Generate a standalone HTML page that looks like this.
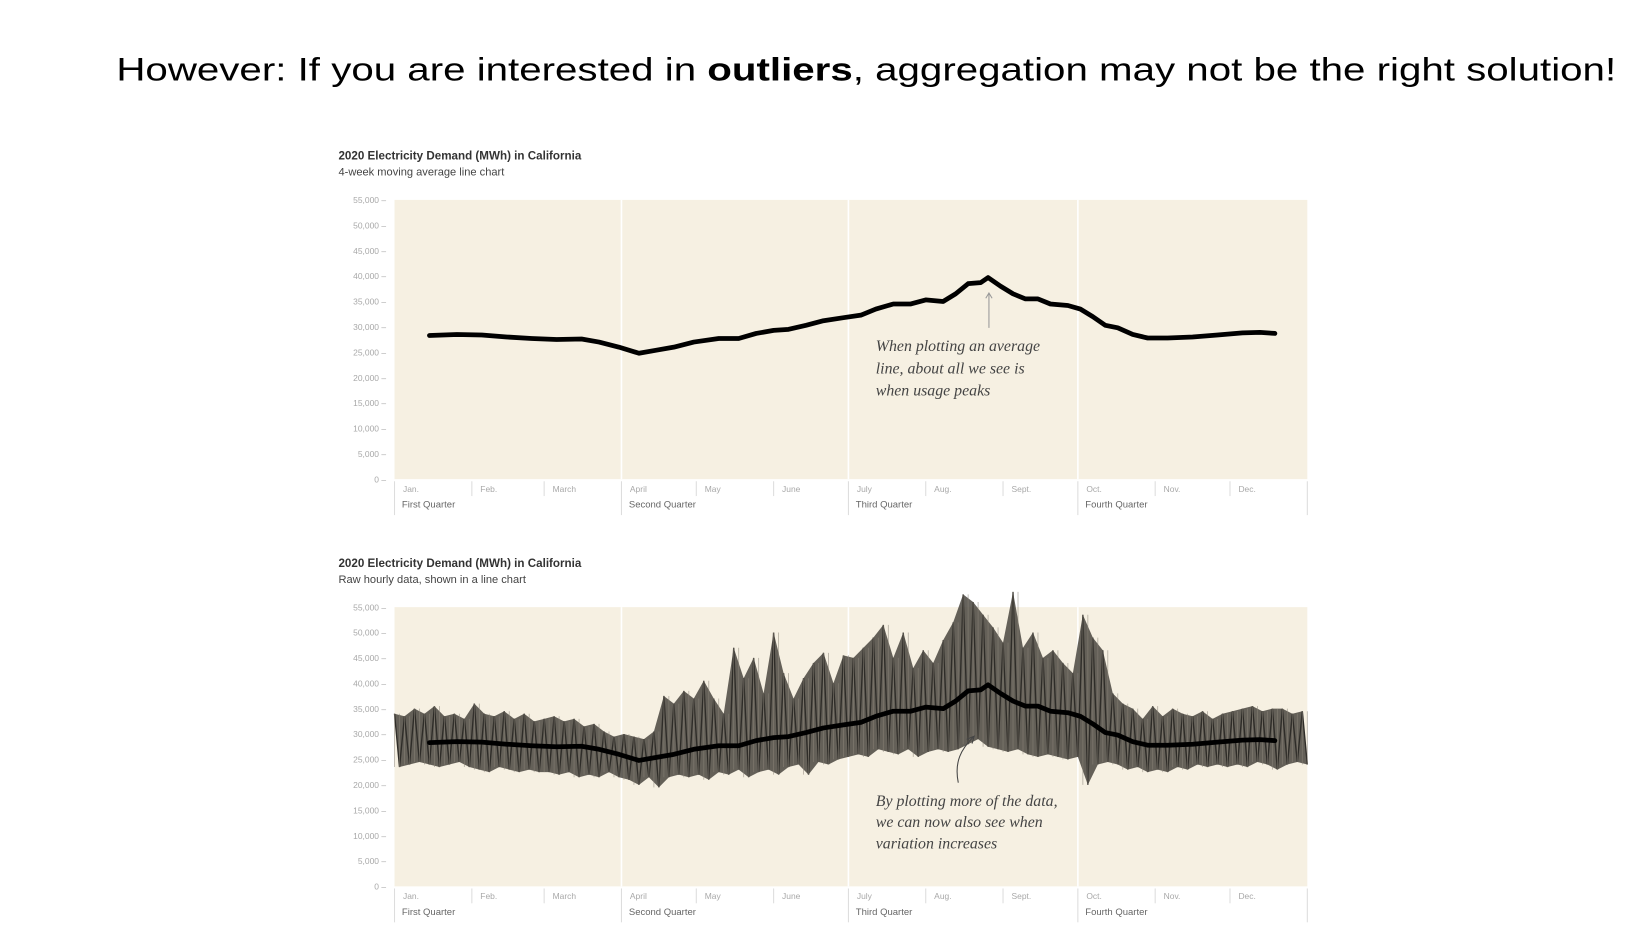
<!DOCTYPE html>
<html><head><meta charset="utf-8">
<style>
html,body{margin:0;padding:0;background:#fff;}
svg{display:block;}
.yt{font-family:"Liberation Sans",sans-serif;font-size:8px;fill:#a8a8a8;}
.mt{font-family:"Liberation Sans",sans-serif;font-size:8px;fill:#a8a8a8;}
.qt{font-family:"Liberation Sans",sans-serif;font-size:9px;fill:#666;}
.ti{font-family:"Liberation Sans",sans-serif;font-size:11px;font-weight:bold;fill:#333;}
.st{font-family:"Liberation Sans",sans-serif;font-size:10.5px;fill:#444;}
.an{font-family:"Liberation Serif",serif;font-style:italic;font-size:15px;fill:#444;}
</style></head>
<body>
<svg id="root" width="1650" height="944" viewBox="0 0 1560 892.5" preserveAspectRatio="none" xmlns="http://www.w3.org/2000/svg">
<text x="110" y="76" font-family="Liberation Sans, sans-serif" font-size="31" fill="#000" textLength="1418" lengthAdjust="spacingAndGlyphs">However: If you are interested in <tspan font-weight="bold">outliers</tspan>, aggregation may not be the right solution!</text>
</svg>
<script>
const monthLabels=["Jan.","Feb.","March","April","May","June","July","Aug.","Sept.","Oct.","Nov.","Dec."];
const monthStartDays=[0,31,60,91,121,152,182,213,244,274,305,335,366];
const quarterLabels=["First Quarter","Second Quarter","Third Quarter","Fourth Quarter"];
const yTicks=[0,5000,10000,15000,20000,25000,30000,35000,40000,45000,50000,55000];
const avgDays=[14,25,35,45,55,65,75,82,90,98,105,112,120,130,138,145,152,158,165,172,180,187,193,200,207,213,220,225,230,235,238,243,248,253,258,263,270,275,280,285,290,296,302,310,320,330,340,347,353];
const avgValues=[28300,28500,28400,28000,27700,27500,27600,27000,26000,24800,25400,26000,27000,27700,27700,28700,29300,29500,30300,31200,31800,32300,33500,34500,34500,35300,35000,36500,38500,38700,39700,38000,36500,35500,35500,34500,34200,33500,32000,30300,29800,28500,27800,27800,28000,28400,28800,28900,28700];
const rawStep=4;
const rawHigh=[34000,33500,35000,34000,35500,33500,34000,33000,36000,34000,33500,34500,33000,34000,32500,33000,33500,32500,33000,31500,32000,30500,29500,30000,29500,29000,30500,37500,36000,38500,37000,40500,37000,34000,47000,41000,45000,38000,50000,42000,37000,41000,44000,46000,40000,45500,45000,47000,49000,51500,45000,50000,43000,46500,44000,48500,52000,57500,56000,53500,51000,48000,58000,47000,50000,45000,46500,44000,42000,53500,49000,46500,38000,36000,35000,33000,35500,33500,35000,34000,33500,34500,33000,34000,34500,35000,35500,34500,35000,35000,34000,34500];
const rawLow=[23500,24000,24500,24000,23500,24000,24500,23500,23000,22500,23500,23000,22500,23000,22500,22500,22000,22500,21500,22000,21500,22500,21500,21000,20000,21500,19500,21500,22000,21500,22000,21000,22500,22000,23000,21500,22500,23000,22000,23500,24000,22000,24500,24000,25000,25500,26000,25500,27000,26500,26000,27000,25500,26500,27000,26500,27000,28000,29000,27500,27000,26500,27000,26000,25500,26000,25500,25000,25500,20000,24000,24500,24000,23000,23500,22500,23000,22500,23500,23000,24000,23500,24000,23500,24000,23500,24500,24000,23000,24000,24500,24000];

const NS="http://www.w3.org/2000/svg";
const root=document.getElementById('root');
const X0=373,X1=1236;
function xs(d){return X0+d/366*(X1-X0);}
function mk(tag,attrs,parent,text){const e=document.createElementNS(NS,tag);for(const k in attrs)e.setAttribute(k,attrs[k]);if(text!==undefined)e.textContent=text;(parent||root).appendChild(e);return e;}

function chart(top,title,sub,isRaw){
  const yTop=top+42,yBot=top+306;
  const ys=v=>yBot-v/55000*(yBot-yTop);
  const g=mk('g',{});
  
  
  const t=mk('text',{x:320,y:top+4,class:'ti'},g,title);
  
  const s=mk('text',{x:320,y:top+19,class:'st'},g,sub);
  
  const bg=mk('rect',{x:X0,y:yTop,width:X1-X0,height:yBot-yTop,fill:'#f6f0e2'},g);
  
  yTicks.forEach(v=>{const e=mk('text',{x:365,y:ys(v)+3,'text-anchor':'end',class:'yt'},g,v.toLocaleString('en-US')+' –');
    });
  for(let q=1;q<4;q++){const x=xs(monthStartDays[q*3]);
    const l=mk('line',{x1:x,x2:x,y1:yTop,y2:yBot,stroke:'#fff','stroke-width':1.5},g);
    }
  monthStartDays.forEach((d,i)=>{const x=xs(d);const q=i%3===0;
    const l=mk('line',{x1:x,x2:x,y1:yBot+2,y2:q?yBot+34:yBot+16,stroke:'#ddd','stroke-width':1},g);
    
    if(i<12){const e=mk('text',{x:x+8,y:yBot+12,class:'mt'},g,monthLabels[i]);
      }
    if(q&&i<12){const e=mk('text',{x:x+7,y:yBot+27,class:'qt'},g,quarterLabels[i/3]);
      }
  });
  if(isRaw){
    let up=[],dn=[];
    rawHigh.forEach((h,i)=>{up.push([xs(Math.min(i*rawStep,364)),ys(h)]);});
    rawLow.forEach((l,i)=>{dn.push([xs(Math.min(i*rawStep+2,366)),ys(l)]);});
    let band='M'+up.map(p=>p.join(',')).join('L')+'L'+dn.slice().reverse().map(p=>p.join(',')).join('L')+'Z';
    const b=mk('path',{d:band,fill:'#4a4740',opacity:0.85},g);
    
    let z='';rawHigh.forEach((h,i)=>{z+=(i?'L':'M')+up[i].join(',')+'L'+dn[i].join(',');});
    let v='';rawHigh.forEach((h,i)=>{v+='M'+up[i][0]+','+up[i][1]+'L'+up[i][0]+','+ys(rawLow[i])+'M'+dn[i][0]+','+ys(h)+'L'+dn[i][0]+','+dn[i][1];});
    const p=mk('path',{d:z,fill:'none',stroke:'#2e2c28','stroke-width':1.3},g);
    
    const p2=mk('path',{d:v,fill:'none',stroke:'#8a8478','stroke-width':0.8,opacity:0.6},g);
    
  }
  const d='M'+avgDays.map((dd,i)=>xs(dd)+','+ys(avgValues[i])).join('L');
  const a=mk('path',{d:d,fill:'none',stroke:'#000','stroke-width':4.5,'stroke-linejoin':'round','stroke-linecap':'round'},g);
  
  return {g,ys,yTop,yBot};
}
const c1=chart(147,'2020 Electricity Demand (MWh) in California','4-week moving average line chart',false);
const c2=chart(532,'2020 Electricity Demand (MWh) in California','Raw hourly data, shown in a line chart',true);

const ar1=mk('path',{d:'M935,310 L935,278 M932,282 L935,277 L938,282',stroke:'#999','stroke-width':1,fill:'none'},c1.g);

["When plotting an average","line, about all we see is","when usage peaks"].forEach((s,i)=>{
  const e=mk('text',{x:828,y:332+i*21,class:'an'},c1.g,s);
  });
const ar2=mk('path',{d:'M906,740 C902,720 909,708 920,697 M914,699 L921,696 L919,703',stroke:'#444','stroke-width':1,fill:'none'},c2.g);

["By plotting more of the data,","we can now also see when","variation increases"].forEach((s,i)=>{
  const e=mk('text',{x:828,y:762+i*20,class:'an'},c2.g,s);
  });
</script>
</body></html>
